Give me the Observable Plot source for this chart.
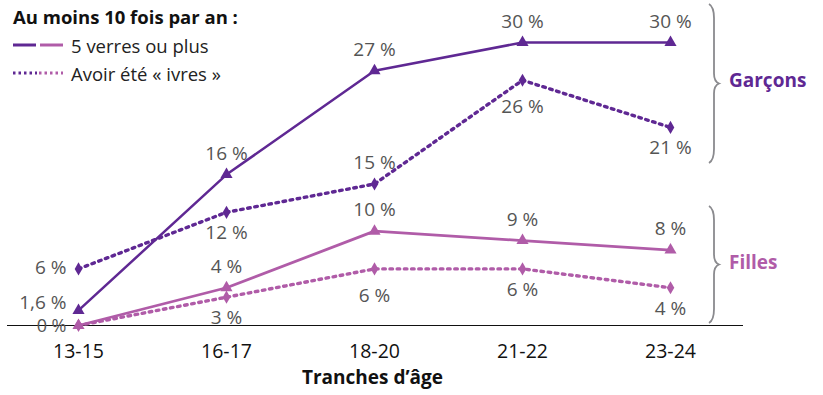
<!DOCTYPE html>
<html><head><meta charset="utf-8">
<script src="https://cdn.jsdelivr.net/npm/d3@7"></script>
<script src="https://cdn.jsdelivr.net/npm/@observablehq/plot@0.6"></script>
<style>
body{margin:0;background:#fff;}
#wrap{position:relative;width:823px;height:395px;font-family:"Open Sans",sans-serif;}
#legend{position:absolute;left:13px;top:3px;font-size:18.5px;color:#222;}
#legend .title{font-weight:bold;color:#111;height:28px;line-height:28px;font-size:18.5px;}
#legend .row{display:flex;align-items:center;height:28px;}
#legend svg{margin-right:8px;}
.group{position:absolute;font-weight:bold;font-size:19px;}
#braces{position:absolute;left:0;top:0;}
</style></head><body>
<div id="wrap"></div>
<script>
const ages = ["13-15", "16-17", "18-20", "21-22", "23-24"];
const garcons5 = [1.6, 16, 27, 30, 30];
const garconsIvres = [6, 12, 15, 26, 21];
const filles5 = [0, 4, 10, 9, 8];
const fillesIvres = [0, 3, 6, 6, 4];
// label placement keywords for each point
const placeG5 = ["highleft", "above", "above", "above", "above"];
const placeGI = ["left", "below", "above", "farbelow", "below"];
const placeF5 = ["lowleft", "above", "above", "above", "above"];
const placeFI = ["none", "below", "farbelow", "below", "below"];

const dark = "#5f2893";
const pink = "#b05ca8";

const fmt = v => String(v).replace(".", ",") + "\u00a0%";

function rows(vals, place, series) {
  return ages.map((a, i) => ({age: a, value: vals[i], place: place[i], series}));
}
const dG5 = rows(garcons5, placeG5, "G5");
const dGI = rows(garconsIvres, placeGI, "GI");
const dF5 = rows(filles5, placeF5, "F5");
const dFI = rows(fillesIvres, placeFI, "FI");
const all = [...dG5, ...dGI, ...dF5, ...dFI];

const lab = (place, opts) => Plot.text(all.filter(d => d.place === place), {
  x: "age", y: "value", text: d => fmt(d.value), fill: "#555", fontSize: 19, ...opts
});

const chart = Plot.plot({
  width: 823, height: 395,
  marginLeft: 7, marginRight: 80, marginTop: 0, marginBottom: 70,
  style: {fontFamily: "Open Sans, sans-serif", color: "#111", background: "transparent"},
  x: {type: "point", domain: ages, range: [78, 670], padding: 0, label: null},
  y: {domain: [0, 30], range: [325, 42], axis: null},
  marks: [
    Plot.axisX({tickSize: 0, tickPadding: 19, fontSize: 19.5, fill: "#111", label: null}),
    Plot.ruleY([0], {stroke: "#111", strokeWidth: 1.2}),
    Plot.line(dGI, {x: "age", y: "value", stroke: dark, strokeWidth: 3.4, strokeDasharray: "2.6 4.6"}),
    Plot.line(dFI, {x: "age", y: "value", stroke: pink, strokeWidth: 3.4, strokeDasharray: "2.6 4.6"}),
    Plot.line(dG5, {x: "age", y: "value", stroke: dark, strokeWidth: 2.5}),
    Plot.line(dF5, {x: "age", y: "value", stroke: pink, strokeWidth: 2.8}),
    Plot.dot(dGI, {x: "age", y: "value", symbol: "diamond", fill: dark, r: 4}),
    Plot.dot(dFI, {x: "age", y: "value", symbol: "diamond", fill: pink, r: 4}),
    Plot.dot(dG5, {x: "age", y: "value", symbol: "triangle", fill: dark, r: 4.5}),
    Plot.dot(dF5, {x: "age", y: "value", symbol: "triangle", fill: pink, r: 4.5}),
    lab("above", {dy: -21}),
    lab("below", {dy: 21}),
    lab("farbelow", {dy: 27}),
    lab("left", {textAnchor: "end", dx: -12, dy: -1}),
    lab("highleft", {textAnchor: "end", dx: -12, dy: -8}),
    lab("lowleft", {textAnchor: "end", dx: -12, dy: 1, fontSize: 18}),
    Plot.text(["Tranches d\u2019âge"], {frameAnchor: "bottom", dy: 58, dx: -3, fontWeight: "bold", fontSize: 19, fill: "#111"})
  ]
});
chart.style.position = "absolute";
chart.style.left = "0";
chart.style.top = "0";
const wrap = document.getElementById("wrap");
wrap.appendChild(chart);

// braces
const ns = "http://www.w3.org/2000/svg";
const bs = document.createElementNS(ns, "svg");
bs.setAttribute("id", "braces");
bs.setAttribute("width", 823); bs.setAttribute("height", 395);
function brace(x, y0, y1) {
  const m = (y0 + y1) / 2;
  const d = `M${x},${y0} Q${x+5},${y0+3} ${x+5},${y0+14} L${x+5},${m-10} Q${x+5},${m-2} ${x+10},${m} Q${x+5},${m+2} ${x+5},${m+10} L${x+5},${y1-14} Q${x+5},${y1-3} ${x},${y1}`;
  const p = document.createElementNS(ns, "path");
  p.setAttribute("d", d); p.setAttribute("fill", "none");
  p.setAttribute("stroke", "#8a8a8e"); p.setAttribute("stroke-width", "1.8");
  bs.appendChild(p);
}
brace(709, 4, 163);
brace(709, 206, 323);
wrap.appendChild(bs);

const g = document.createElement("div");
g.className = "group"; g.textContent = "Garçons"; g.style.color = dark;
g.style.left = "729px"; g.style.top = "67px";
wrap.appendChild(g);
const f = document.createElement("div");
f.className = "group"; f.textContent = "Filles"; f.style.color = pink;
f.style.left = "729px"; f.style.top = "249px";
wrap.appendChild(f);

// legend
const lg = document.createElement("div");
lg.id = "legend";
lg.innerHTML = `<div class="title">Au moins 10 fois par an :</div>
<div class="row"><svg width="50" height="6"><line x1="0" x2="23" y1="3" y2="3" stroke="${dark}" stroke-width="3"/><line x1="27" x2="50" y1="3" y2="3" stroke="${pink}" stroke-width="3"/></svg>5 verres ou plus</div>
<div class="row"><svg width="50" height="6"><line x1="0" x2="24" y1="3" y2="3" stroke="${dark}" stroke-width="3" stroke-dasharray="2.5 3"/><line x1="26" x2="50" y1="3" y2="3" stroke="${pink}" stroke-width="3" stroke-dasharray="2.5 3"/></svg>Avoir été « ivres »</div>`;
wrap.appendChild(lg);
</script>
</body></html>
